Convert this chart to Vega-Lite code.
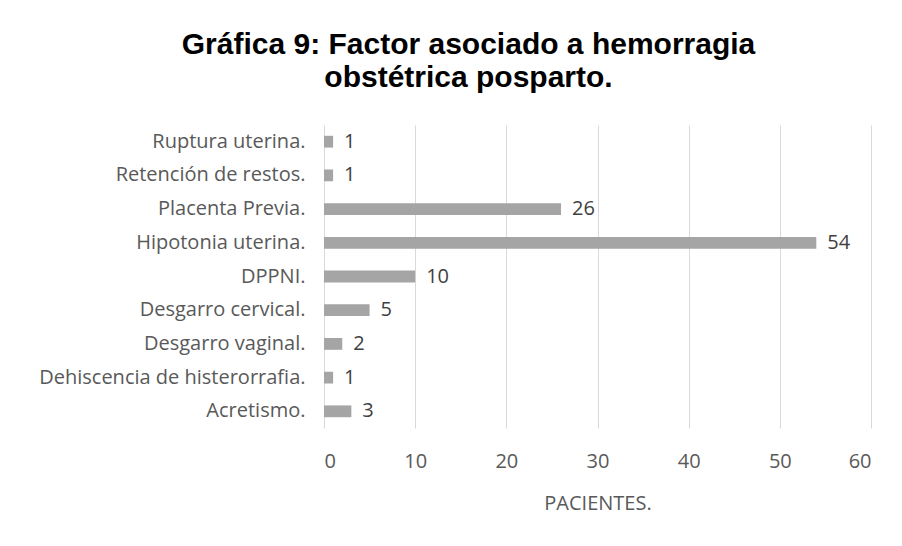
{
  "$schema": "https://vega.github.io/schema/vega-lite/v6.json",
  "autosize": "none",
  "width": 547,
  "height": 303,
  "padding": {"left": 324, "top": 125, "right": 31, "bottom": 118},
  "background": "white",
  "title": {
    "text": ["Gráfica 9: Factor asociado a hemorragia", "obstétrica posparto."],
    "font": "Liberation Sans",
    "fontSize": 30,
    "fontWeight": "bold",
    "color": "#000000",
    "anchor": "middle",
    "dx": -129,
    "offset": 32,
    "lineHeight": 33
  },
  "data": {
    "values": [
      {"factor": "Ruptura uterina.", "pacientes": 1},
      {"factor": "Retención de restos.", "pacientes": 1},
      {"factor": "Placenta Previa.", "pacientes": 26},
      {"factor": "Hipotonia uterina.", "pacientes": 54},
      {"factor": "DPPNI.", "pacientes": 10},
      {"factor": "Desgarro cervical.", "pacientes": 5},
      {"factor": "Desgarro vaginal.", "pacientes": 2},
      {"factor": "Dehiscencia de histerorrafia.", "pacientes": 1},
      {"factor": "Acretismo.", "pacientes": 3}
    ]
  },
  "encoding": {
    "y": {
      "field": "factor",
      "type": "nominal",
      "sort": null,
      "scale": {"paddingInner": 0.65, "paddingOuter": 0.32},
      "axis": {
        "title": null,
        "domain": false,
        "ticks": false,
        "labelPadding": 19,
        "labelLimit": 0,
        "labelFont": "Open Sans",
        "labelFontSize": 20,
        "labelColor": "#595959",
        "grid": false
      }
    },
    "x": {
      "field": "pacientes",
      "type": "quantitative",
      "scale": {"domain": [0, 60]},
      "axis": {
        "values": [0, 10, 20, 30, 40, 50, 60],
        "title": "PACIENTES.",
        "titleFont": "Open Sans",
        "titleFontSize": 20,
        "titleFontWeight": "normal",
        "titleColor": "#595959",
        "titlePadding": 22,
        "domain": false,
        "ticks": false,
        "labelPadding": 23,
        "labelFont": "Open Sans",
        "labelFontSize": 20,
        "labelColor": "#595959",
        "grid": true,
        "gridColor": "#d9d9d9",
        "gridWidth": 1
      }
    }
  },
  "layer": [
    {"mark": {"type": "bar", "color": "#a5a5a5"}},
    {
      "mark": {"type": "text", "align": "left", "baseline": "middle", "dx": 11, "font": "Open Sans", "fontSize": 20, "color": "#404040"},
      "encoding": {"text": {"field": "pacientes", "type": "quantitative"}}
    }
  ],
  "config": {"view": {"stroke": null}}
}
